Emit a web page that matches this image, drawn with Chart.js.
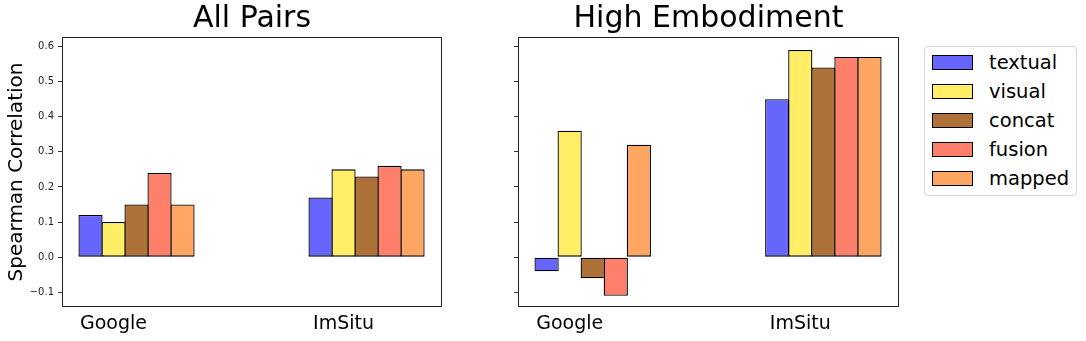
<!DOCTYPE html>
<html>
<head>
<meta charset="utf-8">
<script src="https://cdn.jsdelivr.net/npm/chart.js@4"></script>
<style>
  body { margin: 0; background: #fff; width: 1086px; height: 341px; position: relative; overflow: hidden; font-family: "DejaVu Sans", sans-serif; }
  canvas { position: absolute; top: 0; }
  #c-all { left: 0; }
  #c-high { left: 460px; }
  #legend { position: absolute; left: 924px; top: 46px; width: 153px; height: 150px; box-sizing: border-box;
            border: 1px solid #d6d6d6; border-radius: 4px; padding-top: 1px; }
  .item { height: 29px; display: flex; align-items: center; }
  .swatch { width: 39px; height: 13px; border: 1px solid #000; margin-left: 7px; margin-right: 16px; }
  .label { font-size: 19.5px; color: #000; }
</style>
</head>
<body>
<canvas id="c-all" width="443" height="341"></canvas>
<canvas id="c-high" width="440" height="341"></canvas>
<div id="legend"></div>
<script>
// --- data ---
const groups = ["Google", "ImSitu"];
const methods = ["textual", "visual", "concat", "fusion", "mapped"];
const colors = ["rgb(102,102,255)", "rgb(255,238,102)", "rgb(174,114,56)", "rgb(255,128,106)", "rgb(255,166,99)"];

// values per method: [Google, ImSitu]
const allPairs = {
  textual: [0.12, 0.17],
  visual:  [0.10, 0.25],
  concat:  [0.15, 0.23],
  fusion:  [0.24, 0.26],
  mapped:  [0.15, 0.25]
};
const highEmbodiment = {
  textual: [-0.04, 0.45],
  visual:  [0.36, 0.59],
  concat:  [-0.06, 0.54],
  fusion:  [-0.11, 0.57],
  mapped:  [0.32, 0.57]
};
const yTicks = [-0.1, 0.0, 0.1, 0.2, 0.3, 0.4, 0.5, 0.6];

// group positions on the x axis, labels sit under the 2nd bar of each group
const groupX = [0, 1];
const labelX = [-0.1, 0.9];

// draws the full box around the plot area like matplotlib spines
const boxPlugin = {
  id: "box",
  afterDraw(chart) {
    const a = chart.chartArea;
    const ctx = chart.ctx;
    ctx.save();
    ctx.strokeStyle = "#222";
    ctx.lineWidth = 1;
    ctx.strokeRect(Math.round(a.left) + 0.5, Math.round(a.top) + 0.5,
                   Math.round(a.right - a.left) - 1, Math.round(a.bottom - a.top) - 1);
    ctx.restore();
  }
};

function makeChart(id, title, table, showYLabels, yWidth) {
  const datasets = methods.map((m, i) => ({
    label: m,
    data: table[m].map((v, j) => ({ x: groupX[j], y: v })),
    backgroundColor: colors[i],
    borderColor: "#000",
    borderWidth: 1.3,
    borderSkipped: false,
    inflateAmount: 0,
    categoryPercentage: 0.5,
    barPercentage: 1.05
  }));

  return new Chart(document.getElementById(id), {
    type: "bar",
    data: { datasets },
    plugins: [boxPlugin],
    options: {
      responsive: false,
      animation: false,
      layout: { padding: { left: 0, right: 1, top: 0, bottom: 0 } },
      plugins: {
        legend: { display: false },
        tooltip: { enabled: false },
        title: {
          display: true,
          text: title,
          fullSize: false,
          color: "#000",
          font: { family: "DejaVu Sans", size: 30, weight: "normal" },
          padding: { top: 1, bottom: 0 }
        }
      },
      scales: {
        x: {
          type: "linear",
          min: -0.324,
          max: 1.328,
          offset: false,
          grid: { display: false, offset: false },
          border: { display: false },
          afterBuildTicks: axis => { axis.ticks = labelX.map(v => ({ value: v })); },
          afterFit: axis => { axis.height = 34; },
          ticks: {
            autoSkip: false,
            maxRotation: 0,
            padding: -2,
            color: "#000",
            font: { family: "DejaVu Sans", size: 19 },
            callback: (v, i) => groups[i]
          }
        },
        y: {
          min: -0.142,
          max: 0.627,
          grid: { drawOnChartArea: false, drawTicks: true, tickLength: 4, color: "#333" },
          border: { display: false },
          afterBuildTicks: axis => { axis.ticks = yTicks.map(v => ({ value: v })); },
          afterFit: axis => { axis.width = yWidth; },
          title: {
            display: showYLabels,
            text: "Spearman Correlation",
            color: "#000",
            font: { family: "DejaVu Sans", size: 20 },
            padding: { top: 5, bottom: 0 }
          },
          ticks: {
            display: showYLabels,
            padding: 4,
            color: "#222",
            font: { family: "DejaVu Sans", size: 10 },
            callback: v => v.toFixed(1).replace("-", "\u2212")
          }
        }
      }
    }
  });
}

makeChart("c-all", "All Pairs", allPairs, true, 62);
makeChart("c-high", "High Embodiment", highEmbodiment, false, 58);

// --- legend ---
const legend = document.getElementById("legend");
methods.forEach((m, i) => {
  const row = document.createElement("div");
  row.className = "item";
  row.innerHTML = '<div class="swatch" style="background:' + colors[i] + '"></div><span class="label">' + m + '</span>';
  legend.appendChild(row);
});
</script>
</body>
</html>
